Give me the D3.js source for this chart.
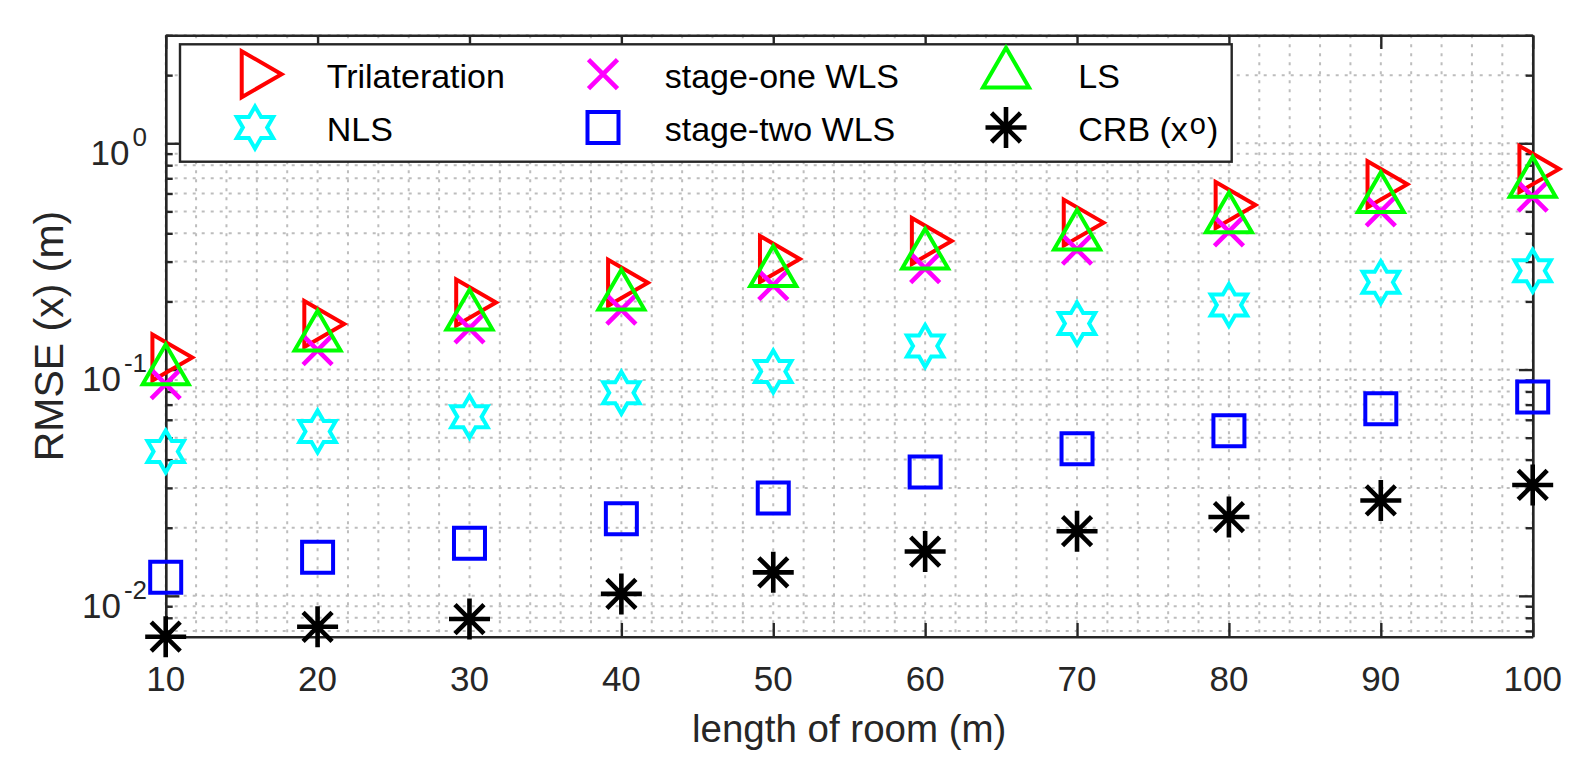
<!DOCTYPE html>
<html><head><meta charset="utf-8">
<script src="https://cdn.jsdelivr.net/npm/d3@7"></script>
<style>
body{margin:0;background:#fff;}
text{font-family:"Liberation Sans",Arial,Helvetica,sans-serif;}
</style>
</head><body>
<svg id="chart" width="1593" height="783"></svg>
<script>
// ---- data ----
const roomLength = [10, 20, 30, 40, 50, 60, 70, 80, 90, 100];
const trilateration = [0.113, 0.159, 0.198, 0.242, 0.308, 0.370, 0.446, 0.534, 0.659, 0.770];
const stageOneWLS = [0.0862, 0.122, 0.152, 0.184, 0.236, 0.281, 0.339, 0.408, 0.500, 0.581];
const lsValues = [0.0985, 0.139, 0.172, 0.211, 0.268, 0.320, 0.388, 0.463, 0.569, 0.665];
const nlsValues = [0.0434, 0.0532, 0.0619, 0.0789, 0.098, 0.127, 0.160, 0.193, 0.243, 0.273];
const stageTwoWLS = [0.0121, 0.0148, 0.0171, 0.0219, 0.0271, 0.0353, 0.0447, 0.0536, 0.0671, 0.0757];
const crbValues = [0.0066, 0.0073, 0.0079, 0.0102, 0.0127, 0.0157, 0.0193, 0.0223, 0.0264, 0.0309];
const xTickValues = [10, 20, 30, 40, 50, 60, 70, 80, 90, 100];
const yMajorTicks = [0.01, 0.1, 1];
const yTickExponents = ["-2", "-1", "0"];
const yLimits = [0.0066, 3];
const xLimits = [10, 100];
const xLabel = "length of room (m)";
const yLabel = "RMSE (x) (m)";

// ---- layout ----
const svg = d3.select("#chart");
const L = 165.7, R = 1532.7, T = 35.3, B = 636.7;
const axisColor = "#262626";
const x = d3.scaleLinear().domain(xLimits).range([L, R]);
const y = d3.scaleLog().domain(yLimits).range([B, T]);

// ---- grid ----
const grid = svg.append("g").attr("stroke", "#bdbdbd").attr("stroke-width", 2)
  .attr("stroke-dasharray", "3,6");
grid.selectAll("line.gx").data(x.ticks(45)).join("line")
  .attr("x1", d => x(d)).attr("x2", d => x(d)).attr("y1", T).attr("y2", B);
grid.selectAll("line.gy").data(y.ticks()).join("line")
  .attr("y1", d => y(d)).attr("y2", d => y(d)).attr("x1", L).attr("x2", R);

// ---- axes ----
function styleAxis(g) {
  g.selectAll("path,line").attr("stroke", axisColor).attr("stroke-width", 2.4);
  g.selectAll("text").remove();
}
const majorLen = 13.7, minorLen = 7;
const yMinor = y.ticks().filter(v => !yMajorTicks.some(m => Math.abs(m - v) < 1e-12));
svg.append("g").attr("transform", `translate(0,${B})`)
  .call(d3.axisBottom(x).tickValues(xTickValues).tickSize(-majorLen).tickSizeOuter(0)).call(styleAxis);
svg.append("g").attr("transform", `translate(0,${T})`)
  .call(d3.axisTop(x).tickValues(xTickValues).tickSize(-majorLen).tickSizeOuter(0)).call(styleAxis);
svg.append("g").attr("transform", `translate(${L},0)`)
  .call(d3.axisLeft(y).tickValues(yMajorTicks).tickSize(-majorLen).tickSizeOuter(0)).call(styleAxis);
svg.append("g").attr("transform", `translate(${L},0)`)
  .call(d3.axisLeft(y).tickValues(yMinor).tickSize(-minorLen).tickSizeOuter(0)).call(styleAxis);
svg.append("g").attr("transform", `translate(${R},0)`)
  .call(d3.axisRight(y).tickValues(yMajorTicks).tickSize(-majorLen).tickSizeOuter(0)).call(styleAxis);
svg.append("g").attr("transform", `translate(${R},0)`)
  .call(d3.axisRight(y).tickValues(yMinor).tickSize(-minorLen).tickSizeOuter(0)).call(styleAxis);

// tick labels
svg.append("g").selectAll("text").data(xTickValues).join("text")
  .attr("x", d => x(d)).attr("y", B + 54.3).attr("text-anchor", "middle")
  .attr("font-size", 35).attr("fill", axisColor).text(d => d);
const yl = svg.append("g").selectAll("text").data(yMajorTicks).join("text")
  .attr("x", 147).attr("y", d => y(d) + 21.7).attr("text-anchor", "end")
  .attr("font-size", 35).attr("fill", axisColor);
yl.append("tspan").text("10");
yl.append("tspan").attr("dy", -19).attr("dx", 3).attr("font-size", 26).text((d, i) => yTickExponents[i]);

// axis labels
svg.append("text").attr("x", (L + R) / 2).attr("y", 742).attr("text-anchor", "middle")
  .attr("font-size", 38.5).attr("fill", axisColor).text(xLabel);
svg.append("text").attr("transform", `translate(62.7,${(T + B) / 2}) rotate(-90)`)
  .attr("text-anchor", "middle").attr("font-size", 41).attr("fill", axisColor).text(yLabel);

// ---- marker shapes ----
const s3 = Math.sqrt(3);
function triRight(h) { const w = h * s3 / 2; return `M${-w/3},${-h/2}L${2*w/3},0L${-w/3},${h/2}Z`; }
function triUp(h) { const w = h * s3 / 2; return `M0,${-2*w/3}L${h/2},${w/3}L${-h/2},${w/3}Z`; }
function square(s) { return `M${-s/2},${-s/2}H${s/2}V${s/2}H${-s/2}Z`; }
function cross(a) { return `M${-a},${-a}L${a},${a}M${-a},${a}L${a},${-a}`; }
function asterisk(a, d) { return `M${-a},0H${a}M0,${-a}V${a}M${-d},${-d}L${d},${d}M${-d},${d}L${d},${-d}`; }
function hexagram(r) {
  const ri = r / s3, pts = [];
  for (let k = 0; k < 12; k++) {
    const ang = -Math.PI / 2 + k * Math.PI / 6;
    const rr = k % 2 === 0 ? r : ri;
    pts.push([rr * Math.cos(ang), rr * Math.sin(ang)]);
  }
  return "M" + pts.map(p => p.join(",")).join("L") + "Z";
}

const series = [
  {name: "Trilateration", values: trilateration, color: "#ff0000", path: triRight(46), sw: 4, col: 0, row: 0},
  {name: "NLS", values: nlsValues, color: "#00ffff", path: hexagram(21), sw: 4, col: 0, row: 1},
  {name: "stage-one WLS", values: stageOneWLS, color: "#ff00ff", path: cross(14.5), sw: 4.6, col: 1, row: 0},
  {name: "stage-two WLS", values: stageTwoWLS, color: "#0000ff", path: square(31), sw: 4, col: 1, row: 1},
  {name: "LS", values: lsValues, color: "#00ff00", path: triUp(46), sw: 4, col: 2, row: 0},
  {name: "CRB", values: crbValues, color: "#000000", path: asterisk(20.5, 14.5), sw: 4.6, col: 2, row: 1}
];

// ---- data markers ----
series.forEach(s => {
  svg.append("g").selectAll("path").data(roomLength).join("path")
    .attr("transform", (d, i) => `translate(${x(d)},${y(s.values[i])})`)
    .attr("d", s.path).attr("fill", "none").attr("stroke", s.color)
    .attr("stroke-width", s.sw).attr("stroke-linejoin", "miter");
});

// ---- legend ----
const lg = svg.append("g");
lg.append("rect").attr("x", 180).attr("y", 44.3).attr("width", 1051.7).attr("height", 117.4)
  .attr("fill", "#fff").attr("stroke", axisColor).attr("stroke-width", 2.4);
const markerX = [255, 603, 1006], textX = [326.7, 664.7, 1078.3];
const markerY = [74.2, 127.5], textY = [87.7, 140.7];
series.forEach(s => {
  lg.append("path").attr("transform", `translate(${markerX[s.col]},${markerY[s.row]})`)
    .attr("d", s.path).attr("fill", "none").attr("stroke", s.color)
    .attr("stroke-width", s.sw).attr("stroke-linejoin", "miter");
  const t = lg.append("text").attr("x", textX[s.col]).attr("y", textY[s.row])
    .attr("font-size", 34).attr("fill", "#000");
  if (s.name === "CRB") {
    t.append("tspan").text("CRB (x");
    t.append("tspan").attr("dy", -7).attr("dx", 2).attr("font-size", 29).text("o");
    t.append("tspan").attr("dy", 7).attr("dx", 1).text(")");
  } else {
    t.text(s.name);
  }
});
</script>
</body></html>
